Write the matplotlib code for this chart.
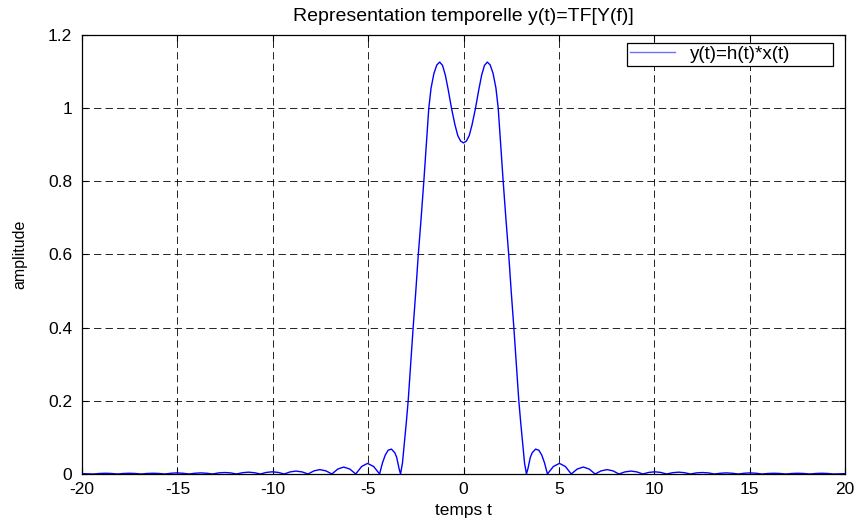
import matplotlib
matplotlib.use("Agg")
import matplotlib.pyplot as plt

plt.rcParams['font.family'] = ['Liberation Sans', 'DejaVu Sans']
plt.rcParams['lines.scale_dashes'] = False

# Data
t_vals = [-20.0, -19.4, -19.09, -18.78, -18.46, -18.15, -17.84, -17.53, -17.21, -16.9,
          -16.59, -16.28, -15.96, -15.65, -15.34, -15.03, -14.71, -14.4, -14.09, -13.78,
          -13.46, -13.15, -12.84, -12.53, -12.21, -11.9, -11.59, -11.28, -10.96, -10.65,
          -10.34, -10.03, -9.71, -9.4, -9.09, -8.78, -8.46, -8.15, -7.84, -7.53,
          -7.21, -6.9, -6.59, -6.28, -5.96, -5.65, -5.34, -5.03, -4.71, -4.4,
          -4.25, -4.1, -3.95, -3.78, -3.6, -3.5, -3.38, -3.3,
          -3.2, -3.1, -3.0, -2.9, -2.77, -2.64, -2.5, -2.37, -2.22, -2.08,
          -1.95, -1.82, -1.7, -1.55, -1.4, -1.25, -1.1, -0.95, -0.8, -0.63,
          -0.45, -0.3, -0.15, 0.0,
          0.15, 0.3, 0.45, 0.63, 0.8, 0.95, 1.1, 1.25, 1.4, 1.55,
          1.7, 1.82, 1.95, 2.08, 2.22, 2.37, 2.5, 2.64, 2.77, 2.9,
          3.0, 3.1, 3.2, 3.3,
          3.38, 3.5, 3.6, 3.78, 3.95, 4.1, 4.25, 4.4,
          4.71, 5.03, 5.34, 5.65, 5.96, 6.28, 6.59, 6.9, 7.21, 7.53,
          7.84, 8.15, 8.46, 8.78, 9.09, 9.4, 9.71, 10.03, 10.34, 10.65,
          10.96, 11.28, 11.59, 11.9, 12.21, 12.53, 12.84, 13.15, 13.46, 13.78,
          14.09, 14.4, 14.71, 15.03, 15.34, 15.65, 15.96, 16.28, 16.59, 16.9,
          17.21, 17.53, 17.84, 18.15, 18.46, 18.78, 19.09, 19.4, 20.0]
y_vals = [0.001, 0.0, 0.0014, 0.002, 0.0014, 0.0, 0.0014, 0.002, 0.0014, 0.0,
          0.0014, 0.002, 0.0014, 0.0, 0.002, 0.003, 0.002, 0.0, 0.002, 0.003,
          0.002, 0.0, 0.003, 0.004, 0.003, 0.0, 0.0035, 0.005, 0.0035, 0.0,
          0.0043, 0.006, 0.0043, 0.0, 0.0057, 0.008, 0.0057, 0.0, 0.0085, 0.012,
          0.0085, 0.0, 0.0135, 0.019, 0.0135, 0.0, 0.0205, 0.029, 0.0205, 0.0,
          0.03, 0.052, 0.065, 0.068, 0.058, 0.045, 0.015, 0.0,
          0.03, 0.085, 0.14, 0.2, 0.3, 0.4, 0.5, 0.6, 0.7, 0.8,
          0.9, 1.0, 1.055, 1.095, 1.118, 1.126, 1.117, 1.09, 1.05, 1.0,
          0.955, 0.925, 0.91, 0.905,
          0.91, 0.925, 0.955, 1.0, 1.05, 1.09, 1.117, 1.126, 1.118, 1.095,
          1.055, 1.0, 0.9, 0.8, 0.7, 0.6, 0.5, 0.4, 0.3, 0.2,
          0.14, 0.085, 0.03, 0.0,
          0.015, 0.045, 0.058, 0.068, 0.065, 0.052, 0.03, 0.0,
          0.0205, 0.029, 0.0205, 0.0, 0.0135, 0.019, 0.0135, 0.0, 0.0085, 0.012,
          0.0085, 0.0, 0.0057, 0.008, 0.0057, 0.0, 0.0043, 0.006, 0.0043, 0.0,
          0.0035, 0.005, 0.0035, 0.0, 0.003, 0.004, 0.003, 0.0, 0.002, 0.003,
          0.002, 0.0, 0.002, 0.003, 0.002, 0.0, 0.0014, 0.002, 0.0014, 0.0,
          0.0014, 0.002, 0.0014, 0.0, 0.0014, 0.002, 0.0014, 0.0, 0.001]

x_ticks = [-20, -15, -10, -5, 0, 5, 10, 15, 20]
y_ticks = [0, 0.2, 0.4, 0.6, 0.8, 1, 1.2]
y_tick_labels = ['0', '0.2', '0.4', '0.6', '0.8', '1', '1.2']

W, H = 859, 519
AX_L, AX_R, AX_T, AX_B = 82, 845, 35, 474
fig = plt.figure(figsize=(W/100, H/100), dpi=100)
ax = fig.add_axes([AX_L/W, (H-AX_B)/H, (AX_R-AX_L)/W, (AX_B-AX_T)/H])

ax.plot(t_vals, y_vals, color=(0, 0, 1), lw=1.0, label='y(t)=h(t)*x(t)')

ax.set_xlim(-20, 20)
ax.set_ylim(0, 1.2)
ax.set_xticks(x_ticks)
ax.set_xticklabels([str(v) for v in x_ticks])
ax.set_yticks(y_ticks)
ax.set_yticklabels(y_tick_labels)
ax.tick_params(direction='in', top=True, right=True, length=4, width=0.8,
               labelsize=12.5, colors='black')
ax.tick_params(axis='x', pad=6)
ax.tick_params(axis='y', pad=7)
ax.grid(True, color='black', linestyle=(0, (5.3, 3.0)), linewidth=0.6)
for s in ax.spines.values():
    s.set_linewidth(0.9)
    s.set_color('black')

ax.set_title('Representation temporelle y(t)=TF[Y(f)]', fontsize=14, pad=10)
ax.set_xlabel('temps t', fontsize=12.5, labelpad=4)
ax.set_ylabel('amplitude', fontsize=11.5, labelpad=15)

# legend box: x 627..833, y 43..67 (pixels)
lx0 = (627 - AX_L) / (AX_R - AX_L)
lw_ = (833 - 627) / (AX_R - AX_L)
ly1 = (AX_B - 43) / (AX_B - AX_T)
leg = ax.legend(loc='upper left', bbox_to_anchor=(lx0, ly1 - 0.1, lw_, 0.1),
                mode='expand', fontsize=13.5, fancybox=False, framealpha=1,
                edgecolor='black', borderaxespad=0, handlelength=2.4,
                handletextpad=0.8, borderpad=0.15)
leg.get_frame().set_linewidth(0.9)
for h in leg.get_lines():
    h.set_color('#7070ff')

fig.savefig('out.png', dpi=100)
